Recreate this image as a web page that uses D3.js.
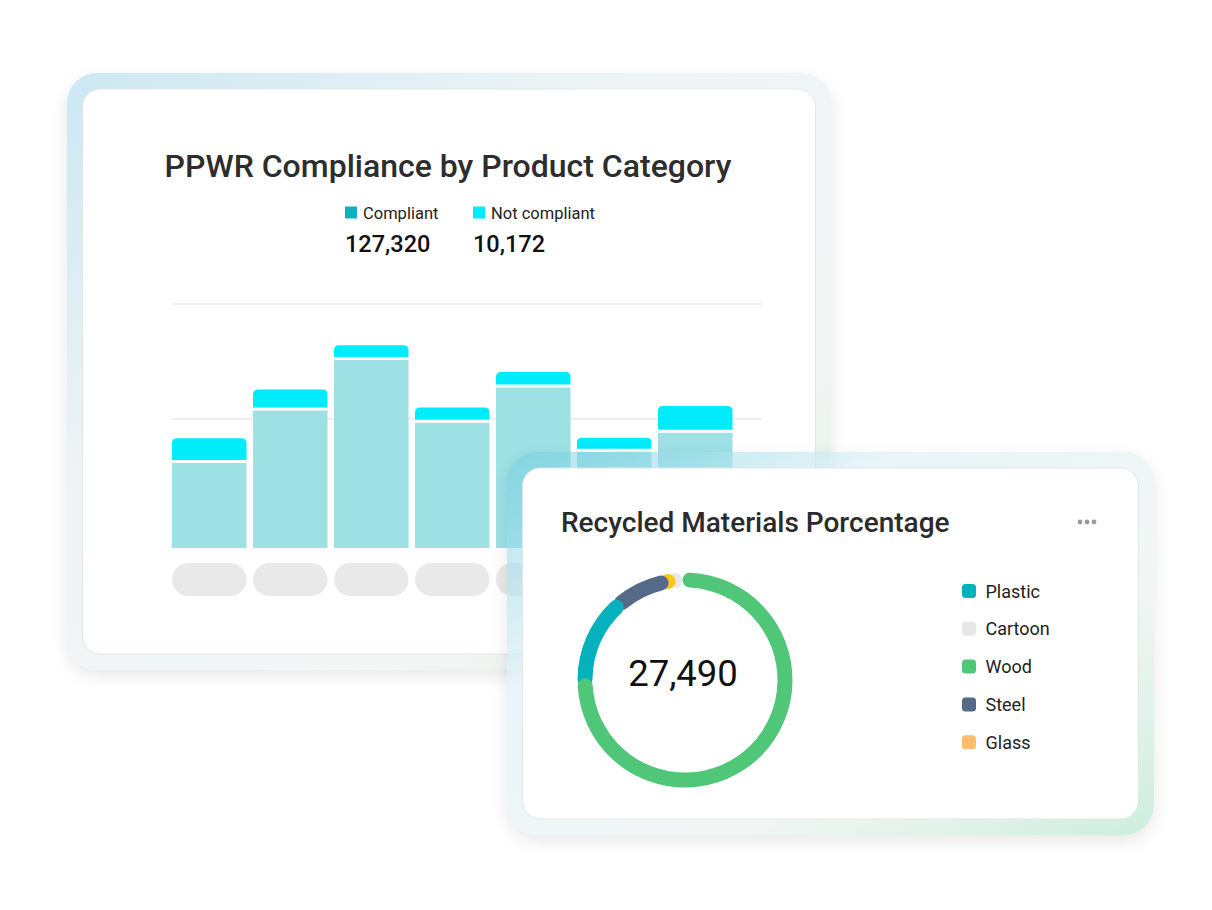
<!DOCTYPE html>
<html lang="en">
<head>
<meta charset="UTF-8">
<title>PPWR dashboard</title>
<style>
  body { margin: 0; background: #fff; }
  svg { display: block; font-family: Roboto, "Noto Sans", sans-serif; }
  .grid { stroke: #e6e6e6; stroke-width: 1.2px; }
  .pill { fill: #e9e9e9; }
</style>
</head>
<body>
<script src="https://d3js.org/d3.v7.min.js"></script>
<script>
// ---- data ----
const categories = ['Cat 1', 'Cat 2', 'Cat 3', 'Cat 4', 'Cat 5', 'Cat 6', 'Cat 7'];
const compliant = [11850, 19150, 26200, 17450, 22350, 13400, 16050];
const notCompliant = [3440, 2930, 2050, 2130, 2190, 1950, 3720];
const gridTicks = [18000, 34000];
const seriesNames = ['Compliant', 'Not compliant'];
const seriesTotals = [127320, 10172];
const seriesColors = ['#0cb1bc', '#00ecfb'];

const materials = ['Plastic', 'Cartoon', 'Wood', 'Steel', 'Glass'];
const materialValues = [3820, 310, 20800, 2250, 310];
const materialColors = ['#04b1bd', '#e8e8e8', '#4fc678', '#546a88', '#ffbd6b'];
const ringOrder = ['Wood', 'Plastic', 'Steel', 'Glass', 'Cartoon'];

const W = 1212, H = 910;
const fmt = d3.format(',');

const svg = d3.select('body').append('svg')
  .attr('width', W)
  .attr('height', H);

const defs = svg.append('defs');

function gradient(id, stops) {
  let g = defs.append('linearGradient').attr('id', id)
    .attr('x1', 0).attr('y1', 0).attr('x2', 1).attr('y2', 1);
  stops.forEach(s => g.append('stop')
    .attr('offset', s[0]).attr('stop-color', s[1]).attr('stop-opacity', s[2]));
}
gradient('frame1', [[0, '#cce8f3', 1], [0.35, '#edf4f6', 1], [0.7, '#f3f6f5', 1], [1, '#dcf2e6', 1]]);
gradient('frame2', [[0, '#63c8df', 0.45], [0.3, '#dff1f6', 0.7], [0.65, '#f0f5f4', 0.85], [1, '#cdeedc', 1]]);

defs.append('filter').attr('id', 'blur')
  .attr('x', '-20%').attr('y', '-20%').attr('width', '140%').attr('height', '140%')
  .append('feGaussianBlur').attr('stdDeviation', 9);

// card = soft shadow + glass frame + white panel
function card(c, id) {
  let mask = defs.append('mask').attr('id', 'm' + id);
  mask.append('rect').attr('x', 0).attr('y', 0).attr('width', W).attr('height', H).attr('fill', '#fff');
  mask.append('rect').attr('x', c.x).attr('y', c.y).attr('width', c.w).attr('height', c.h)
    .attr('rx', 30).attr('fill', '#000');

  let g = svg.append('g');
  g.append('rect')
    .attr('x', c.x).attr('y', c.y + 6).attr('width', c.w).attr('height', c.h)
    .attr('rx', 30).attr('fill', '#000').attr('opacity', 0.09)
    .attr('filter', 'url(#blur)').attr('mask', `url(#m${id})`);
  g.append('rect')
    .attr('x', c.x).attr('y', c.y).attr('width', c.w).attr('height', c.h)
    .attr('rx', 30).attr('fill', `url(#frame${id})`);
  g.append('rect')
    .attr('x', c.x + 15.5).attr('y', c.y + 16).attr('width', c.w - 31).attr('height', c.h - 32)
    .attr('rx', 18).attr('fill', '#fff').attr('stroke', '#e3e6e7').attr('stroke-width', 1);
  return g;
}

// ---- card 1: stacked bars ----
const c1 = { x: 67, y: 73, w: 764, h: 597 };
const g1 = card(c1, 1);

g1.append('text')
  .attr('x', 448).attr('y', 177)
  .attr('text-anchor', 'middle')
  .attr('font-size', 32).attr('font-weight', 500).attr('fill', '#2d2d2d')
  .text('PPWR Compliance by Product Category');

const lg = g1.selectAll('.lg').data(seriesNames).enter().append('g')
  .attr('class', 'lg')
  .attr('transform', (d, i) => `translate(${345 + i * 128},0)`);
lg.append('rect').attr('x', 0).attr('y', 206.5).attr('width', 12).attr('height', 12)
  .attr('fill', (d, i) => seriesColors[i]);
lg.append('text').attr('x', 18).attr('y', 218.5)
  .attr('font-size', 16.5).attr('fill', '#222').text(d => d);
lg.append('text').attr('x', 0).attr('y', 251.5)
  .attr('font-size', 23.5).attr('font-weight', 500).attr('fill', '#111').text((d, i) => fmt(seriesTotals[i]));

const x = d3.scaleBand().domain(categories).range([172, 732.5])
  .paddingInner(0.08).paddingOuter(0).align(0);
const y = d3.scaleLinear().domain([0, 34000]).range([548, 304]);

g1.selectAll('.grid').data(gridTicks).enter().append('line')
  .attr('class', 'grid')
  .attr('x1', 172).attr('x2', 762)
  .attr('y1', d => y(d)).attr('y2', d => y(d));

const bw = x.bandwidth(), gap = 3, r = 5;
function topRounded(x0, y0, w, h) {
  return `M${x0},${y0 + h}V${y0 + r}Q${x0},${y0} ${x0 + r},${y0}H${x0 + w - r}Q${x0 + w},${y0} ${x0 + w},${y0 + r}V${y0 + h}Z`;
}

g1.selectAll('.comp').data(categories).enter().append('rect')
  .attr('class', 'comp')
  .attr('x', d => x(d)).attr('width', bw)
  .attr('y', (d, i) => y(compliant[i]))
  .attr('height', (d, i) => y(0) - y(compliant[i]))
  .attr('fill', '#9de1e5');

g1.selectAll('.notc').data(categories).enter().append('path')
  .attr('class', 'notc')
  .attr('d', (d, i) => {
    let top = y(compliant[i] + notCompliant[i]);
    return topRounded(x(d), top, bw, y(compliant[i]) - gap - top);
  })
  .attr('fill', seriesColors[1]);

g1.selectAll('.pill').data(categories).enter().append('rect')
  .attr('class', 'pill')
  .attr('x', d => x(d)).attr('width', bw)
  .attr('y', 563).attr('height', 33).attr('rx', 16.5);

// ---- card 2: donut ----
const c2 = { x: 507, y: 452, w: 647, h: 383 };
const g2 = card(c2, 2);

g2.append('text')
  .attr('x', 561).attr('y', 532)
  .attr('font-size', 28).attr('font-weight', 500).attr('fill', '#2b2b2b')
  .text('Recycled Materials Porcentage');

g2.selectAll('.dot').data([0, 1, 2]).enter().append('circle')
  .attr('cx', d => 1080 + d * 7).attr('cy', 522).attr('r', 2.4)
  .attr('fill', '#9a9a9a');

const ringData = ringOrder.map(n => {
  let i = materials.indexOf(n);
  return { name: n, value: materialValues[i], color: n == 'Glass' ? '#fcc81a' : materialColors[i] };
});
const pie = d3.pie().sort(null).value(d => d.value)
  .startAngle(-0.025).endAngle(2 * Math.PI - 0.025);
const arcs = pie(ringData);
const ext = 0.08;
const arc = d3.arc().innerRadius(92.5).outerRadius(107.5).cornerRadius(7.5);

const ring = g2.append('g').attr('transform', 'translate(685,680)');
ring.selectAll('path').data(arcs.slice().reverse()).enter().append('path')
  .attr('d', d => arc({
    startAngle: d.index == 0 ? d.startAngle : d.startAngle - ext,
    endAngle: d.endAngle
  }))
  .attr('fill', d => d.data.color);

ring.append('text')
  .attr('x', -2).attr('y', 5.5)
  .attr('text-anchor', 'middle')
  .attr('font-size', 36.5).attr('fill', '#111')
  .text(fmt(d3.sum(materialValues)));

const ml = g2.selectAll('.ml').data(materials).enter().append('g')
  .attr('class', 'ml')
  .attr('transform', (d, i) => `translate(962,${584 + i * 37.8})`);
ml.append('rect').attr('width', 14).attr('height', 14).attr('rx', 3.5)
  .attr('fill', (d, i) => materialColors[i]);
ml.append('text').attr('x', 23.5).attr('y', 13.5)
  .attr('font-size', 18).attr('fill', '#222').text(d => d);
</script>
</body>
</html>
